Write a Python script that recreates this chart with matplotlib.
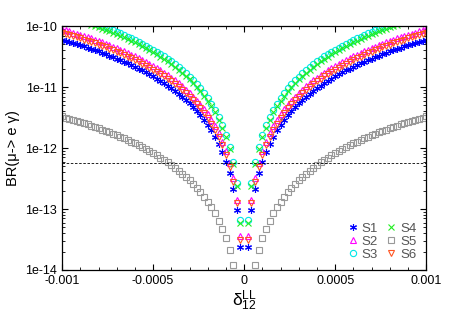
import numpy as np
import matplotlib
matplotlib.use("Agg")
import matplotlib.pyplot as plt

plt.rcParams['font.family'] = ['Liberation Sans', 'DejaVu Sans']
plt.rcParams['mathtext.fontset'] = 'custom'
plt.rcParams['mathtext.rm'] = 'Liberation Sans'
plt.rcParams['mathtext.it'] = 'Liberation Sans:italic'

# delta_12^LL > 0 grid (the curves are mirrored for delta < 0)
delta_pos = [0.00002 * k for k in range(1, 51)]

# BR values, in units of 1e-14, for delta > 0
br_s1 = [2.4, 9.6, 21.6, 38.4, 60, 86.4, 117.6, 153.6, 194.4, 240, 290.4, 345.6, 405.6, 470.4, 540,
         614.4, 693.6, 777.6, 866.4, 960, 1058.4, 1161.6, 1269.6, 1382.4, 1500, 1622.4, 1749.6, 1881.6,
         2018.4, 2160, 2306.4, 2457.6, 2613.6, 2774.4, 2940, 3110.4, 3285.6, 3465.6, 3650.4, 3840,
         4034.4, 4233.6, 4437.6, 4646.4, 4860, 5078.4, 5301.6, 5529.6, 5762.4, 6000]
br_s2 = [3.56, 14.2, 32.0, 57.0, 89.0, 128, 174, 228, 288, 356, 431, 513, 602, 698, 801, 911, 1029,
         1153, 1285, 1424, 1570, 1723, 1883, 2051, 2225, 2407, 2595, 2791, 2994, 3204, 3421, 3645,
         3877, 4115, 4361, 4614, 4874, 5141, 5415, 5696, 5984, 6280, 6582, 6892, 7209, 7533, 7864,
         8202, 8548, 8900]
br_s3 = [6.6, 26.4, 59.4, 105.6, 165, 237.6, 323.4, 422.4, 534.6, 660, 798.6, 950.4, 1115.4, 1293.6,
         1485, 1689.6, 1907.4, 2138.4, 2382.6, 2640, 2910.6, 3194.4, 3491.4, 3801.6, 4125, 4461.6,
         4811.4, 5174.4, 5550.6, 5940, 6342.6, 6758.4, 7187.4, 7629.6, 8085, 8553.6, 9035.4, 9530.4,
         10038.6, 10560, 11094.6, 11642.4, 12203.4, 12777.6, 13365, 13965.6, 14579.4, 15206.4,
         15846.6, 16500]
br_s4 = [6, 24, 54, 96, 150, 216, 294, 384, 486, 600, 726, 864, 1014, 1176, 1350, 1536, 1734, 1944,
         2166, 2400, 2646, 2904, 3174, 3456, 3750, 4056, 4374, 4704, 5046, 5400, 5766, 6144, 6534,
         6936, 7350, 7776, 8214, 8664, 9126, 9600, 10086, 10584, 11094, 11616, 12150, 12696, 13254,
         13824, 14406, 15000]
br_s5 = [0.132, 0.528, 1.19, 2.11, 3.30, 4.75, 6.47, 8.45, 10.7, 13.2, 16.0, 19.0, 22.3, 25.9, 29.7,
         33.8, 38.1, 42.8, 47.7, 52.8, 58.2, 63.9, 69.8, 76.0, 82.5, 89.2, 96.2, 103, 111, 119, 127,
         135, 144, 153, 162, 171, 181, 191, 201, 211, 222, 233, 244, 256, 267, 279, 292, 304, 317, 330]
br_s6 = [3.1, 12.4, 27.9, 49.6, 77.5, 111.6, 151.9, 198.4, 251.1, 310, 375.1, 446.4, 523.9, 607.6,
         697.5, 793.6, 895.9, 1004.4, 1119.1, 1240, 1367.1, 1500.4, 1639.9, 1785.6, 1937.5, 2095.6,
         2259.9, 2430.4, 2607.1, 2790, 2979.1, 3174.4, 3375.9, 3583.6, 3797.5, 4017.6, 4243.9,
         4476.4, 4715.1, 4960, 5211.1, 5468.4, 5731.9, 6001.6, 6277.5, 6559.6, 6847.9, 7142.4,
         7443.1, 7750]

labels = ["S1", "S2", "S3", "S4", "S5", "S6"]
meg_bound = 5.7e-13

series = [br_s1, br_s2, br_s3, br_s4, br_s5, br_s6]
styles = [
    dict(marker=(6, 2, 0), color="#0000ff", mfc="none", ms=5, mew=0.8),
    dict(marker="^", color="#ff00ff", mfc="none", ms=4.5, mew=0.8),
    dict(marker="o", color="#00e8e8", mfc="none", ms=4.5, mew=0.8),
    dict(marker="x", color="#22ee22", mfc="none", ms=4.5, mew=0.8),
    dict(marker="s", color="#999999", mfc="none", ms=4, mew=0.8),
    dict(marker="v", color="#ff5522", mfc="none", ms=4.5, mew=0.8),
]

fig = plt.figure(figsize=(4.5, 3.15), dpi=100)
ax = fig.add_axes([0.138, 0.143, 0.809, 0.774])

x_all = np.concatenate([-np.array(delta_pos)[::-1], np.array(delta_pos)])
for vals, lab, st in zip(series, labels, styles):
    v = np.array(vals) * 1e-14
    y_all = np.concatenate([v[::-1], v])
    ax.plot(x_all, y_all, linestyle="none", label=lab, **st)

ax.axhline(meg_bound, color="black", lw=0.6, ls=(0, (3, 2)))

ax.set_yscale("log")
ax.set_xlim(-0.001, 0.001)
ax.set_ylim(1e-14, 1e-10)
ax.set_xticks([-0.001, -0.0005, 0, 0.0005, 0.001])
ax.set_xticklabels(["-0.001", "-0.0005", "0", "0.0005", "0.001"])
ax.set_xticks(np.arange(-0.001, 0.00101, 0.0001), minor=True)
ax.set_yticks([1e-14, 1e-13, 1e-12, 1e-11, 1e-10])
ax.set_yticklabels(["1e-14", "1e-13", "1e-12", "1e-11", "1e-10"])
ax.tick_params(which="both", direction="in", top=True, right=True, labelsize=9)
ax.tick_params(which="major", length=4)
ax.tick_params(which="minor", length=2)
for s in ax.spines.values():
    s.set_linewidth(0.9)

ax.set_ylabel("BR(μ-> e γ)", fontsize=10.5)
ax.set_xlabel(r"$\mathrm{\delta}_{\mathrm{12}}^{\mathrm{LL}}$", fontsize=12.5, labelpad=1)

leg = ax.legend(loc="lower right", ncol=2, frameon=False, fontsize=9.5,
                handletextpad=0.1, columnspacing=0.4, labelspacing=0.05,
                handlelength=1.2, borderaxespad=0.3)
for t in leg.get_texts():
    t.set_color("#555555")

fig.savefig("out.png", dpi=100)
